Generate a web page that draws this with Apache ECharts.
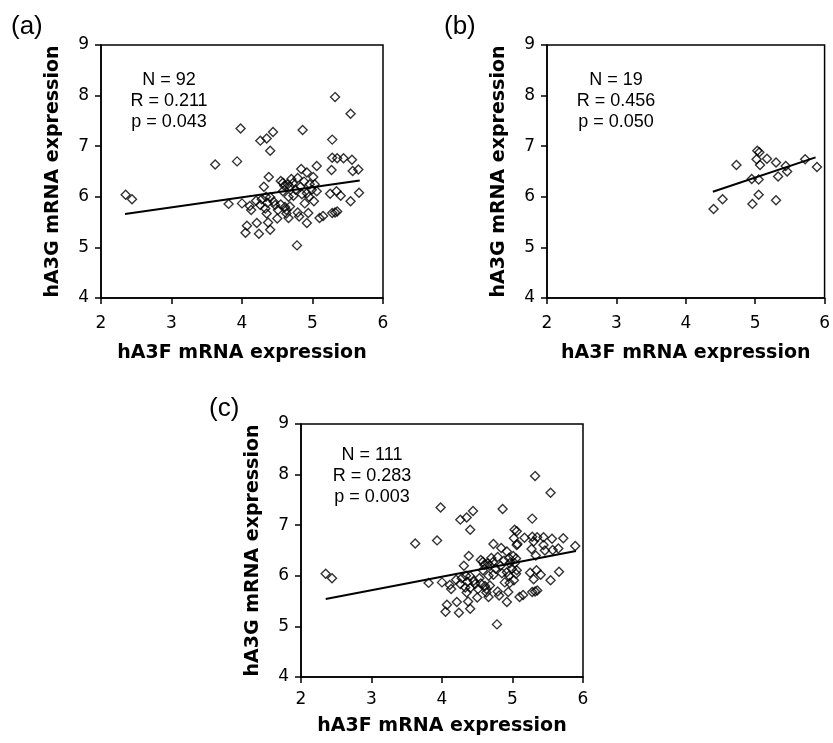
<!DOCTYPE html>
<html>
<head>
<meta charset="utf-8">
<script src="https://cdn.jsdelivr.net/npm/echarts@6/dist/echarts.min.js"></script>
<style>
  html, body { margin: 0; padding: 0; background: #fff; }
  #main { width: 833px; height: 743px; }
</style>
</head>
<body>
<div id="main"></div>
<script>
// 数据：(a) 92 个样本
var pointsA = [
  [2.35, 6.04], [2.44, 5.95], [3.62, 6.64], [3.93, 6.70], [3.98, 7.35],
  [3.81, 5.86], [4.00, 5.87], [4.07, 5.43], [4.05, 5.29], [4.13, 5.74],
  [4.11, 5.82], [4.21, 5.48], [4.24, 5.27], [4.26, 7.11], [4.35, 7.15],
  [4.44, 7.28], [4.40, 6.91], [4.38, 6.39], [4.31, 6.20], [4.28, 5.95],
  [4.34, 6.00], [4.26, 5.84], [4.33, 5.77], [4.35, 5.67], [4.37, 5.49],
  [4.40, 5.35], [4.40, 5.99], [4.36, 5.88], [4.47, 5.84], [4.51, 5.74],
  [4.50, 5.57], [4.55, 6.31], [4.58, 6.28], [4.60, 6.22], [4.61, 5.80],
  [4.63, 5.67], [4.65, 6.25], [4.68, 6.20], [4.66, 6.00], [4.68, 5.81],
  [4.66, 5.58], [4.63, 5.74], [4.58, 6.11], [4.72, 6.27], [4.73, 6.02],
  [4.76, 6.14], [4.79, 6.37], [4.83, 6.20], [4.78, 5.04], [4.79, 5.69],
  [4.81, 5.61], [4.89, 5.87], [4.92, 6.07], [4.95, 6.00], [4.99, 6.14],
  [4.94, 5.68], [4.92, 5.48], [4.84, 6.55], [4.92, 6.48], [5.01, 6.39],
  [5.06, 6.61], [4.86, 7.32], [5.06, 6.11], [5.02, 5.91], [5.03, 6.25],
  [5.10, 5.58], [5.15, 5.62], [5.28, 5.68], [5.32, 5.69], [5.35, 5.71],
  [5.25, 6.06], [5.34, 6.11], [5.40, 6.02], [5.54, 5.91], [5.66, 6.08],
  [5.27, 6.53], [5.28, 6.77], [5.35, 6.76], [5.44, 6.76], [5.56, 6.73],
  [5.57, 6.51], [5.65, 6.54], [5.28, 7.13], [5.32, 7.97], [5.54, 7.64],
  [4.45, 5.90], [4.55, 5.85], [4.70, 6.35], [4.88, 6.30], [4.96, 6.25],
  [4.20, 5.92], [4.85, 6.05]
];

// 数据：(b) 19 个样本
var pointsB = [
  [4.40, 5.76], [4.53, 5.95], [4.73, 6.63], [4.96, 5.86], [4.95, 6.35],
  [5.05, 6.04], [5.05, 6.34], [5.02, 6.74], [5.03, 6.91], [5.06, 6.88],
  [5.07, 6.63], [5.17, 6.75], [5.30, 6.68], [5.30, 5.93], [5.33, 6.40],
  [5.44, 6.61], [5.46, 6.50], [5.72, 6.74], [5.89, 6.59]
];

// (c) = (a) + (b)，共 111 个
var pointsC = pointsA.concat(pointsB);

// 回归线两端
var trendA = [[2.34, 5.66], [5.67, 6.32]];
var trendB = [[4.39, 6.10], [5.87, 6.78]];
var trendC = [[2.35, 5.54], [5.90, 6.49]];

// 统计文字
var statsA = ['N = 92', 'R = 0.211', 'p = 0.043'];
var statsB = ['N = 19', 'R = 0.456', 'p = 0.050'];
var statsC = ['N = 111', 'R = 0.283', 'p = 0.003'];

var xTitle = 'hA3F mRNA expression';
var yTitle = 'hA3G mRNA expression';

var tickFont = 'DejaVu Sans';
var lineColor = '#000';

function makeX(idx, labelMargin, nameGap) {
  return {
    gridIndex: idx, type: 'value', min: 2, max: 6, interval: 1,
    name: xTitle, nameLocation: 'middle', nameGap: nameGap,
    nameTextStyle: { fontFamily: tickFont, fontWeight: 'bold', fontSize: 19, color: '#000' },
    axisLine: { lineStyle: { color: lineColor, width: 1.5 } },
    axisTick: { length: 6, lineStyle: { color: lineColor, width: 1.5 } },
    axisLabel: { margin: labelMargin, fontFamily: tickFont, fontSize: 17, color: '#000' },
    splitLine: { show: false }
  };
}

function makeY(idx) {
  return {
    gridIndex: idx, type: 'value', min: 4, max: 9, interval: 1,
    name: yTitle, nameLocation: 'middle', nameGap: 38, nameRotate: 90,
    nameTextStyle: { fontFamily: tickFont, fontWeight: 'bold', fontSize: 19, color: '#000' },
    axisLine: { lineStyle: { color: lineColor, width: 1.5 } },
    axisTick: { length: 6, lineStyle: { color: lineColor, width: 1.5 } },
    axisLabel: { margin: 12, fontFamily: tickFont, fontSize: 17, color: '#000' },
    splitLine: { show: false }
  };
}

function makeScatter(idx, data) {
  return {
    type: 'scatter', xAxisIndex: idx, yAxisIndex: idx, data: data,
    symbol: 'diamond', symbolSize: 9,
    itemStyle: { color: 'rgba(0,0,0,0)', borderColor: '#000', borderWidth: 1.4 },
    silent: true
  };
}

function makeTrend(idx, data) {
  return {
    type: 'line', xAxisIndex: idx, yAxisIndex: idx, data: data,
    symbol: 'none', lineStyle: { color: '#000', width: 2 }, silent: true
  };
}

function statText(lines, cx, y0) {
  return lines.map(function (s, i) {
    return {
      type: 'text', x: cx, y: y0 + i * 21,
      style: { text: s, fontFamily: 'Liberation Sans', fontSize: 18, fill: '#000',
               textAlign: 'center', textVerticalAlign: 'middle' }
    };
  });
}

function panelLabel(s, x, y) {
  return {
    type: 'text', x: x, y: y,
    style: { text: s, fontFamily: 'Liberation Sans', fontSize: 26, fill: '#000',
             textAlign: 'left', textVerticalAlign: 'middle' }
  };
}

var myChart = echarts.init(document.getElementById('main'), null, { renderer: 'canvas' });

var option = {
  backgroundColor: '#fff',
  animation: false,
  grid: [
    { left: 101, top: 45, width: 282, height: 253, show: true, borderColor: '#000', borderWidth: 1.5 },
    { left: 547, top: 45, width: 283, height: 253, show: true, borderColor: '#000', borderWidth: 1.5 },
    { left: 301, top: 424, width: 282, height: 253, show: true, borderColor: '#000', borderWidth: 1.5 }
  ],
  xAxis: [makeX(0, 17, 46), makeX(1, 17, 46), makeX(2, 14, 40)],
  yAxis: [makeY(0), makeY(1), makeY(2)],
  series: [
    makeScatter(0, pointsA), makeTrend(0, trendA),
    makeScatter(1, pointsB), makeTrend(1, trendB),
    makeScatter(2, pointsC), makeTrend(2, trendC)
  ],
  graphic: []
    .concat(statText(statsA, 169, 80))
    .concat(statText(statsB, 616, 80))
    .concat(statText(statsC, 372, 455))
    .concat([panelLabel('(a)', 11, 27), panelLabel('(b)', 444, 27), panelLabel('(c)', 209, 409)])
};

myChart.setOption(option);
</script>
</body>
</html>
